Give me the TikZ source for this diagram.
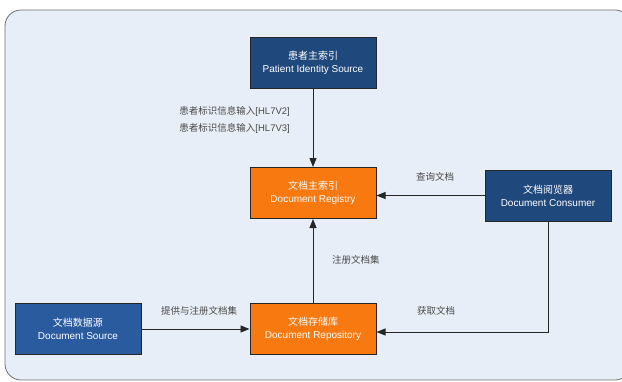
\documentclass[tikz,border=0pt]{standalone}
\usepackage{fontspec}
\setmainfont{Liberation Sans}
\newfontfamily\cjk{Noto Sans CJK SC}
\usetikzlibrary{arrows.meta}
\definecolor{bgfill}{HTML}{E8EEF8}
\definecolor{bgline}{HTML}{6F6F6F}
\definecolor{darkblue}{HTML}{1F487C}
\definecolor{midblue}{HTML}{2A5B9F}
\definecolor{orangebox}{HTML}{F7790F}
\definecolor{labelgray}{HTML}{4A4A4A}
\begin{document}
\begin{tikzpicture}[x=1pt,y=-1pt,
  box/.style={draw=black!85, line width=1pt, minimum width=126pt, minimum height=51pt,
    text=white, align=center, font=\fontsize{10}{13}\selectfont, inner sep=0pt},
  bluebox/.style={box, fill=darkblue},
  srcbox/.style={box, fill=midblue},
  orbox/.style={box, fill=orangebox},
  conn/.style={draw=black!85, line width=0.9pt, -{Triangle[length=9pt,width=7pt]}},
  lbl/.style={text=labelgray, font=\fontsize{9.5}{12}\selectfont, inner sep=0pt}]
\useasboundingbox (0,0) rectangle (622,381);
\draw[fill=bgfill, draw=bgline, line width=0.8pt, rounded corners=16pt] (5,10) rectangle (631,380);

\node[bluebox] (pis) at (313,62.5) {{\cjk 患者主索引}\\Patient Identity Source};
\node[orbox] (reg) at (313,193) {{\cjk 文档主索引}\\Document Registry};
\node[bluebox] (cons) at (548,195.5) {{\cjk 文档阅览器}\\Document Consumer};
\node[srcbox] (src) at (78,329) {{\cjk 文档数据源}\\Document Source};
\node[orbox] (repo) at (313,329) {{\cjk 文档存储库}\\Document Repository};

\draw[conn] (pis) -- (reg);
\draw[conn] (repo) -- (reg);
\draw[conn] (cons.west) -- (cons.west -| reg.east);
\draw[conn] (src) -- (repo);
\draw[conn] (cons.south) |- ([yshift=-3pt]repo.east);

\node[lbl, anchor=east] (l1) at (290,111) {{\cjk 患者标识信息输入}[HL7V2]};
\node[lbl, anchor=east] (l2) at (290,128) {{\cjk 患者标识信息输入}[HL7V3]};
\node[lbl] (l3) at (435,177) {\cjk 查询文档};
\node[lbl, anchor=west] (l4) at (332,260) {\cjk 注册文档集};
\node[lbl] (l5) at (199,311) {\cjk 提供与注册文档集};
\node[lbl] (l6) at (436,311) {\cjk 获取文档};
\end{tikzpicture}
\end{document}
